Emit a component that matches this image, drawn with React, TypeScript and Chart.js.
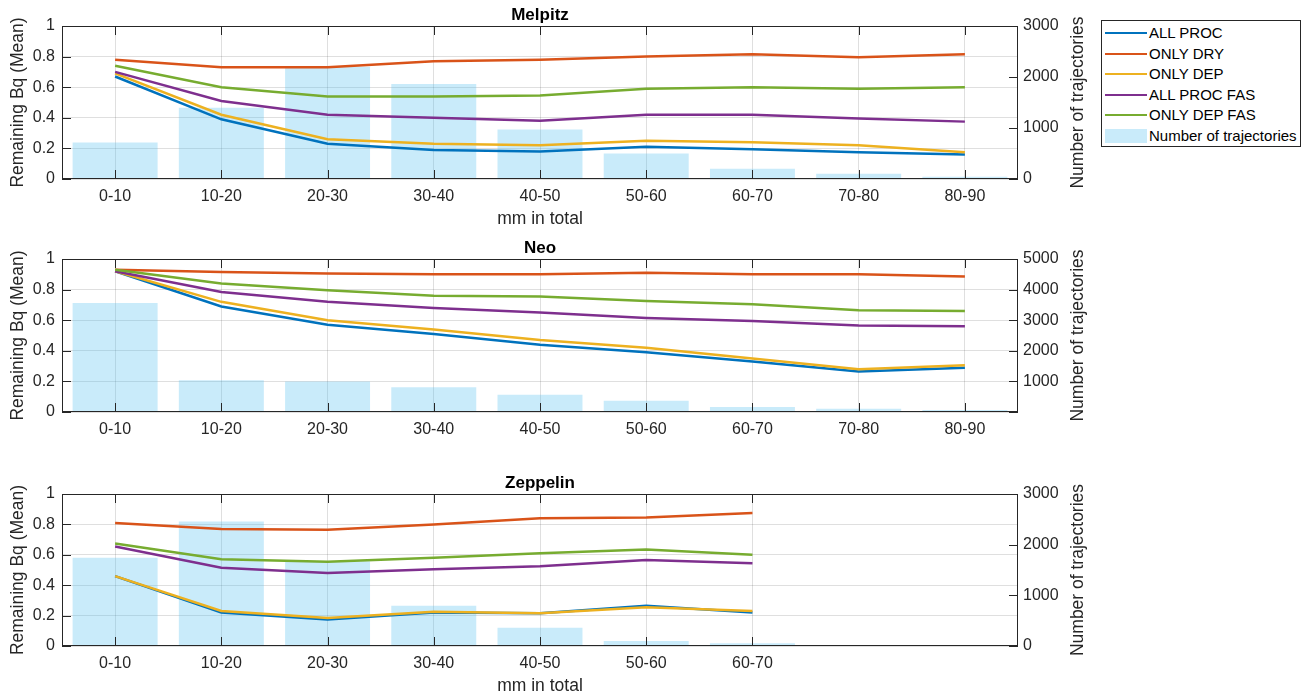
import React, { useEffect, useRef } from 'react';
import { Chart, registerables } from 'chart.js';

Chart.register(...registerables);

// ---------------- DATA ----------------
const categories = ['0-10', '10-20', '20-30', '30-40', '40-50', '50-60', '60-70', '70-80', '80-90'];
const zeppelinCategories = ['0-10', '10-20', '20-30', '30-40', '40-50', '50-60', '60-70'];

const seriesNames = ['ALL PROC', 'ONLY DRY', 'ONLY DEP', 'ALL PROC FAS', 'ONLY DEP FAS'];
const seriesColors = ['#0072BD', '#D95319', '#EDB120', '#7E2F8E', '#77AC30'];
const barLabel = 'Number of trajectories';

const melpitzAllProc = [0.67, 0.39, 0.23, 0.19, 0.18, 0.21, 0.195, 0.175, 0.16];
const melpitzOnlyDry = [0.78, 0.73, 0.73, 0.77, 0.78, 0.8, 0.815, 0.795, 0.815];
const melpitzOnlyDep = [0.69, 0.42, 0.26, 0.23, 0.22, 0.25, 0.24, 0.22, 0.175];
const melpitzAllProcFas = [0.7, 0.51, 0.42, 0.4, 0.38, 0.42, 0.42, 0.395, 0.375];
const melpitzOnlyDepFas = [0.74, 0.6, 0.54, 0.54, 0.545, 0.59, 0.6, 0.59, 0.6];
const melpitzTrajectories = [715, 1395, 2200, 1865, 970, 500, 200, 105, 45];

const neoAllProc = [0.92, 0.69, 0.57, 0.51, 0.44, 0.39, 0.33, 0.265, 0.29];
const neoOnlyDry = [0.93, 0.915, 0.905, 0.9, 0.9, 0.91, 0.9, 0.9, 0.885];
const neoOnlyDep = [0.92, 0.72, 0.6, 0.54, 0.47, 0.42, 0.35, 0.28, 0.305];
const neoAllProcFas = [0.92, 0.785, 0.72, 0.68, 0.65, 0.615, 0.595, 0.565, 0.56];
const neoOnlyDepFas = [0.93, 0.84, 0.795, 0.76, 0.755, 0.725, 0.705, 0.665, 0.66];
const neoTrajectories = [3565, 1035, 1000, 805, 565, 370, 165, 110, 65];

const zeppelinAllProc = [0.46, 0.22, 0.175, 0.22, 0.215, 0.265, 0.22];
const zeppelinOnlyDry = [0.81, 0.77, 0.765, 0.8, 0.84, 0.845, 0.875];
const zeppelinOnlyDep = [0.46, 0.23, 0.185, 0.225, 0.215, 0.255, 0.23];
const zeppelinAllProcFas = [0.655, 0.515, 0.48, 0.505, 0.525, 0.565, 0.545];
const zeppelinOnlyDepFas = [0.675, 0.57, 0.555, 0.58, 0.61, 0.635, 0.6];
const zeppelinTrajectories = [1740, 2455, 1675, 795, 360, 100, 52];

const leftAxisTitle = 'Remaining Bq (Mean)';
const rightAxisTitle = 'Number of trajectories';
const xAxisTitle = 'mm in total';

// ---------------- STYLE ----------------
const FONT = '"Liberation Sans", Arial, Helvetica, sans-serif';
const AX = '#262626';
const GRID = 'rgba(38,38,38,0.15)';
const BAR_COLOR = 'rgba(77,190,238,0.3)';
const CANVAS_W = 1100;
const AREA_L = 62;
const AREA_R = 1018;
const LINE_ORDER = [4, 3, 2, 1, 0];

const framePlugin = {
  id: 'frame',
  afterDatasetsDraw(chart: any) {
    const { ctx, chartArea } = chart;
    const { left, right, top, bottom } = chartArea;
    const tl = 9;
    ctx.save();
    ctx.strokeStyle = AX;
    ctx.lineWidth = 1;
    ctx.beginPath();
    const xs = chart.scales.x;
    xs.ticks.forEach((t: any) => {
      const px = Math.round(xs.getPixelForValue(t.value)) + 0.5;
      ctx.moveTo(px, bottom);
      ctx.lineTo(px, bottom - tl);
      ctx.moveTo(px, top);
      ctx.lineTo(px, top + tl);
    });
    const yl = chart.scales.y;
    yl.ticks.forEach((t: any) => {
      const py = Math.round(yl.getPixelForValue(t.value)) + 0.5;
      ctx.moveTo(left, py);
      ctx.lineTo(left + tl, py);
    });
    const yr = chart.scales.yR;
    yr.ticks.forEach((t: any) => {
      const py = Math.round(yr.getPixelForValue(t.value)) + 0.5;
      ctx.moveTo(right, py);
      ctx.lineTo(right - tl, py);
    });
    ctx.stroke();
    ctx.strokeRect(left + 0.5, top + 0.5, right - left - 1, bottom - top - 1);
    ctx.restore();
  },
  afterDraw(chart: any, _args: any, opts: any) {
    const { ctx, chartArea } = chart;
    const { left, right, top, bottom } = chartArea;
    const cx = (left + right) / 2;
    const cy = (top + bottom) / 2;
    ctx.save();
    ctx.fillStyle = '#000';
    ctx.font = `bold 17px ${FONT}`;
    ctx.textAlign = 'center';
    ctx.textBaseline = 'alphabetic';
    ctx.fillText(opts.title, cx, top - 6);

    ctx.fillStyle = AX;
    ctx.font = `17.5px ${FONT}`;
    ctx.textBaseline = 'middle';
    ctx.save();
    ctx.translate(18, cy);
    ctx.rotate(-Math.PI / 2);
    ctx.fillText(leftAxisTitle, 0, 0);
    ctx.restore();

    ctx.save();
    ctx.translate(1078, cy);
    ctx.rotate(-Math.PI / 2);
    ctx.fillText(rightAxisTitle, 0, 0);
    ctx.restore();

    if (opts.showXTitle) {
      ctx.fillText(xAxisTitle, cx, bottom + 40);
    }
    ctx.restore();
  },
};

type PanelProps = {
  title: string;
  cats: string[];
  series: number[][];
  bars: number[];
  rightMax: number;
  hideRightZero: boolean;
  showXTitle: boolean;
  top: number;
  height: number;
  areaTop: number;
  areaBottom: number;
};

function Panel(p: PanelProps) {
  const ref = useRef<HTMLCanvasElement | null>(null);
  useEffect(() => {
    if (!ref.current) return;
    const tickFont = { family: FONT, size: 16 };
    const datasets: any[] = p.series.map((vals, i) => ({
      type: 'line',
      label: seriesNames[i],
      data: vals.map((v, j) => ({ x: j + 1, y: v })),
      borderColor: seriesColors[i],
      backgroundColor: seriesColors[i],
      borderWidth: 2.5,
      pointRadius: 0,
      tension: 0,
      yAxisID: 'y',
      xAxisID: 'x',
      order: LINE_ORDER[i],
    }));
    datasets.push({
      type: 'bar',
      label: barLabel,
      data: p.bars.map((v, j) => ({ x: j + 1, y: v })),
      backgroundColor: BAR_COLOR,
      borderWidth: 0,
      yAxisID: 'yR',
      xAxisID: 'x',
      categoryPercentage: 0.8,
      barPercentage: 1,
      order: 10,
    });
    const chart = new Chart(ref.current, {
      type: 'line',
      data: { datasets },
      plugins: [framePlugin],
      options: {
        responsive: false,
        maintainAspectRatio: false,
        animation: false,
        layout: { padding: { top: p.areaTop, left: 0, right: 0, bottom: 0 } },
        plugins: {
          legend: { display: false },
          tooltip: { enabled: false },
          title: { display: false },
          frame: { title: p.title, showXTitle: p.showXTitle },
        } as any,
        scales: {
          x: {
            type: 'linear',
            min: 0.5,
            max: 9.5,
            offset: false,
            position: 'bottom',
            afterBuildTicks: (s: any) => {
              s.ticks = p.cats.map((_, i) => ({ value: i + 1 }));
            },
            afterFit: (s: any) => {
              s.height = p.height - p.areaBottom;
            },
            ticks: {
              autoSkip: false,
              maxRotation: 0,
              minRotation: 0,
              padding: 8,
              color: AX,
              font: tickFont,
              callback: (v: any) => p.cats[Math.round(Number(v)) - 1] ?? '',
            },
            grid: { color: GRID, drawTicks: false, offset: false },
            border: { display: false },
          },
          y: {
            type: 'linear',
            position: 'left',
            min: 0,
            max: 1,
            afterFit: (s: any) => {
              s.width = AREA_L;
            },
            ticks: {
              stepSize: 0.2,
              padding: 7,
              color: AX,
              font: tickFont,
              callback: (v: any) => String(Math.round(Number(v) * 10) / 10),
            },
            grid: { color: GRID, drawTicks: false },
            border: { display: false },
          },
          yR: {
            type: 'linear',
            position: 'right',
            min: 0,
            max: p.rightMax,
            afterFit: (s: any) => {
              s.width = CANVAS_W - AREA_R;
            },
            ticks: {
              stepSize: 1000,
              padding: 5,
              color: AX,
              font: tickFont,
              callback: (v: any) => (p.hideRightZero && Number(v) === 0 ? '' : String(v)),
            },
            grid: { display: false, drawTicks: false },
            border: { display: false },
          },
        } as any,
      },
    } as any);
    return () => chart.destroy();
  }, []);
  return (
    <canvas
      ref={ref}
      width={CANVAS_W}
      height={p.height}
      style={{ position: 'absolute', left: 0, top: p.top, width: CANVAS_W, height: p.height }}
    />
  );
}

function Legend() {
  const rows = seriesNames.map((n, i) => ({ name: n, color: seriesColors[i], bar: false }));
  rows.push({ name: barLabel, color: BAR_COLOR, bar: true });
  return (
    <div
      style={{
        position: 'absolute',
        left: 1101,
        top: 20,
        width: 198,
        height: 125,
        border: `1px solid ${AX}`,
        background: '#fff',
        fontFamily: FONT,
        fontSize: 15,
        color: '#000',
      }}
    >
      {rows.map((r, i) => {
        const cy = 12 + 20.6 * i;
        return (
          <div key={r.name} style={{ position: 'absolute', left: 0, top: cy - 10, height: 20, width: 198 }}>
            {r.bar ? (
              <div style={{ position: 'absolute', left: 3, top: 3, width: 42, height: 14, background: r.color }} />
            ) : (
              <div style={{ position: 'absolute', left: 3, top: 9, width: 42, height: 2, background: r.color }} />
            )}
            <span style={{ position: 'absolute', left: 47, top: 0, lineHeight: '20px', whiteSpace: 'nowrap' }}>{r.name}</span>
          </div>
        );
      })}
    </div>
  );
}

export default function App() {
  return (
    <div style={{ position: 'absolute', left: 0, top: 0, width: 1305, height: 698, background: '#fff', overflow: 'hidden' }}>
      <Panel
        title="Melpitz"
        cats={categories}
        series={[melpitzAllProc, melpitzOnlyDry, melpitzOnlyDep, melpitzAllProcFas, melpitzOnlyDepFas]}
        bars={melpitzTrajectories}
        rightMax={3000}
        hideRightZero={false}
        showXTitle={true}
        top={0}
        height={232}
        areaTop={26}
        areaBottom={179}
      />
      <Panel
        title="Neo"
        cats={categories}
        series={[neoAllProc, neoOnlyDry, neoOnlyDep, neoAllProcFas, neoOnlyDepFas]}
        bars={neoTrajectories}
        rightMax={5000}
        hideRightZero={true}
        showXTitle={false}
        top={234}
        height={232}
        areaTop={25}
        areaBottom={178}
      />
      <Panel
        title="Zeppelin"
        cats={zeppelinCategories}
        series={[zeppelinAllProc, zeppelinOnlyDry, zeppelinOnlyDep, zeppelinAllProcFas, zeppelinOnlyDepFas]}
        bars={zeppelinTrajectories}
        rightMax={3000}
        hideRightZero={false}
        showXTitle={true}
        top={466}
        height={232}
        areaTop={28}
        areaBottom={180}
      />
      <Legend />
    </div>
  );
}
